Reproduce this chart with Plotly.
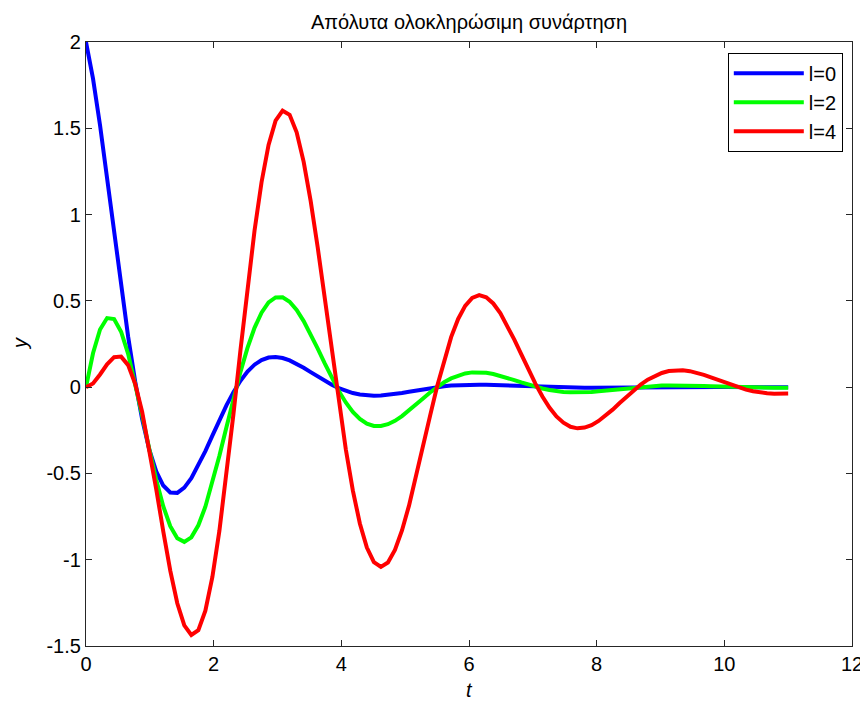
import plotly.graph_objects as go

t = [0.00, 0.11, 0.22, 0.33, 0.44, 0.55, 0.66, 0.77, 0.88, 0.99,
     1.10, 1.21, 1.32, 1.43, 1.54, 1.65, 1.76, 1.87, 1.98, 2.09,
     2.20, 2.31, 2.42, 2.53, 2.64, 2.75, 2.86, 2.97, 3.08, 3.19,
     3.30, 3.41, 3.52, 3.63, 3.74, 3.85, 3.96, 4.07, 4.18, 4.29,
     4.40, 4.51, 4.62, 4.73, 4.84, 4.95, 5.06, 5.17, 5.28, 5.39,
     5.50, 5.61, 5.72, 5.83, 5.94, 6.05, 6.16, 6.27, 6.38, 6.49,
     6.60, 6.71, 6.82, 6.93, 7.04, 7.15, 7.26, 7.37, 7.48, 7.59,
     7.70, 7.81, 7.92, 8.03, 8.14, 8.25, 8.36, 8.47, 8.58, 8.69,
     8.80, 8.91, 9.02, 9.13, 9.24, 9.35, 9.46, 9.57, 9.68, 9.79,
     9.90, 10.01, 10.12, 10.23, 10.34, 10.45, 10.56, 10.67, 10.78, 10.89,
     11.00]

y_l0 = [2.0, 1.7874, 1.5175, 1.2134, 0.8962, 0.5843, 0.2927, 0.0333, -0.1859, -0.3604,
        -0.4882, -0.5702, -0.6102, -0.6125, -0.5823, -0.5276, -0.4548, -0.3706, -0.2806, -0.1904,
        -0.1057, -0.0291, 0.0367, 0.0900, 0.1301, 0.1570, 0.1716, 0.1750, 0.1689, 0.1551,
        0.1356, 0.1123, 0.0870, 0.0614, 0.0367, 0.0141, -0.0056, -0.0218, -0.0343, -0.0429,
        -0.0480, -0.0498, -0.0488, -0.0454, -0.0403, -0.0339, -0.0268, -0.0195, -0.0124, -0.0057,
        0.0001, 0.0050, 0.0089, 0.0116, 0.0134, 0.0141, 0.0140, 0.0133, 0.0119, 0.0102,
        0.0082, 0.0061, 0.0041, 0.0021, 0.0004, -0.0011, -0.0022, -0.0031, -0.0037, -0.0040,
        -0.0040, -0.0038, -0.0035, -0.0030, -0.0025, -0.0019, -0.0013, -0.0008, -0.0003, 0.0002,
        0.0006, 0.0008, 0.0010, 0.0011, 0.0011, 0.0011, 0.0010, 0.0009, 0.0008, 0.0006,
        0.0004, 0.0003, 0.0001, 0.0000, -0.0001, -0.0002, -0.0003, -0.0003, -0.0003, -0.0003,
        -0.0003]

y_l2 = [0.0, 0.1966, 0.3339, 0.4004, 0.3943, 0.3214, 0.1932, 0.0256, -0.1636, -0.3568,
        -0.5370, -0.6899, -0.8055, -0.8759, -0.8967, -0.8705, -0.8004, -0.6930, -0.5556, -0.3979,
        -0.2325, -0.0672, 0.0888, 0.2277, 0.3435, 0.4318, 0.4908, 0.5198, 0.5202, 0.4948,
        0.4475, 0.3829, 0.3062, 0.2229, 0.1373, 0.0543, -0.0220, -0.0885, -0.1432, -0.1841,
        -0.2113, -0.2248, -0.2255, -0.2149, -0.1950, -0.1678, -0.1357, -0.1008, -0.0654, -0.0309,
        0.0006, 0.0281, 0.0507, 0.0678, 0.0793, 0.0855, 0.0865, 0.0831, 0.0760, 0.0661,
        0.0541, 0.0411, 0.0278, 0.0148, 0.0029, -0.0076, -0.0163, -0.0230, -0.0275, -0.0303,
        -0.0310, -0.0300, -0.0278, -0.0244, -0.0204, -0.0158, -0.0110, -0.0064, -0.0021, 0.0017,
        0.0049, 0.0074, 0.0091, 0.0102, 0.0106, 0.0104, 0.0098, 0.0087, 0.0073, 0.0058,
        0.0042, 0.0026, 0.0011, -0.0002, -0.0014, -0.0023, -0.0029, -0.0033, -0.0035, -0.0035,
        -0.0033]

y_l4 = [0.0, 0.0216, 0.0735, 0.1321, 0.1735, 0.1768, 0.1275, 0.0197, -0.1440, -0.3532,
        -0.5907, -0.8348, -1.0633, -1.2525, -1.3809, -1.4363, -1.4087, -1.2959, -1.1001, -0.8316,
        -0.5115, -0.1552, 0.2149, 0.5761, 0.9068, 1.1875, 1.4037, 1.5438, 1.6022, 1.5784,
        1.4768, 1.3057, 1.0778, 0.8091, 0.5135, 0.2091, -0.0871, -0.3602, -0.5986, -0.7898,
        -0.9297, -1.0138, -1.0418, -1.0165, -0.9438, -0.8306, -0.6866, -0.5211, -0.3453, -0.1666,
        0.0033, 0.1576, 0.2900, 0.3953, 0.4710, 0.5173, 0.5328, 0.5210, 0.4849, 0.4290,
        0.3571, 0.2758, 0.1896, 0.1026, 0.0204, -0.0543, -0.1183, -0.1695, -0.2057, -0.2300,
        -0.2387, -0.2343, -0.2202, -0.1959, -0.1661, -0.1304, -0.0920, -0.0542, -0.0180, 0.0148,
        0.0431, 0.0659, 0.0821, 0.0931, 0.0979, 0.0972, 0.0927, 0.0833, 0.0707, 0.0568,
        0.0416, 0.0260, 0.0111, -0.0020, -0.0145, -0.0240, -0.0306, -0.0352, -0.0377, -0.0381,
        -0.0363]

series_names = ["l=0", "l=2", "l=4"]
series_values = [y_l0, y_l2, y_l4]
colors = ["#0000FF", "#00FF00", "#FF0000"]

x_ticks = [0, 2, 4, 6, 8, 10, 12]
y_ticks = [-1.5, -1, -0.5, 0, 0.5, 1, 1.5, 2]
y_tick_text = ["-1.5", "-1", "-0.5", "0", "0.5", "1", "1.5", "2"]

FONT = "Liberation Sans, Arial, Helvetica, sans-serif"

fig = go.Figure()
for name, vals, c in zip(series_names, series_values, colors):
    fig.add_trace(go.Scatter(x=t, y=vals, mode="lines", name=name,
                             line=dict(color=c, width=4)))

axis_common = dict(showgrid=False, zeroline=False, showline=True, mirror="ticks",
                   linecolor="#262626", linewidth=1.3, ticks="inside", ticklen=6,
                   tickcolor="#262626", tickwidth=1, automargin=False,
                   tickfont=dict(family=FONT, size=20, color="black"))

# the page body adds an 8px margin, so the figure is sized to fit the 868x704 window
fig.update_layout(
    width=860, height=696,
    margin=dict(l=78, r=16, t=34, b=58, autoexpand=False),
    paper_bgcolor="white", plot_bgcolor="white",
    title=dict(text="Απόλυτα ολοκληρώσιμη συνάρτηση",
               x=0.5, xref="paper", xanchor="center",
               y=1, yref="paper", yanchor="bottom", pad=dict(b=13),
               font=dict(family=FONT, size=20, color="black")),
    xaxis=dict(range=[0, 12], tickvals=x_ticks, ticktext=[str(v) for v in x_ticks],
               **axis_common),
    yaxis=dict(range=[-1.5, 2], tickvals=y_ticks, ticktext=y_tick_text,
               **axis_common),
    legend=dict(x=0.988, y=0.982, xanchor="right", yanchor="top",
                bgcolor="white", bordercolor="black", borderwidth=1,
                font=dict(family=FONT, size=20, color="black"),
                tracegroupgap=0, itemwidth=70),
    showlegend=True,
)

fig.add_annotation(text="<i>t</i>", x=0.5, xref="paper", y=-0.073, yref="paper",
                   xanchor="center", yanchor="middle", showarrow=False,
                   font=dict(family=FONT, size=20, color="black"))
fig.add_annotation(text="<i>y</i>", x=-0.086, xref="paper", y=0.5, yref="paper",
                   xanchor="center", yanchor="middle", showarrow=False, textangle=-90,
                   font=dict(family=FONT, size=20, color="black"))

fig.write_html("out.html")
